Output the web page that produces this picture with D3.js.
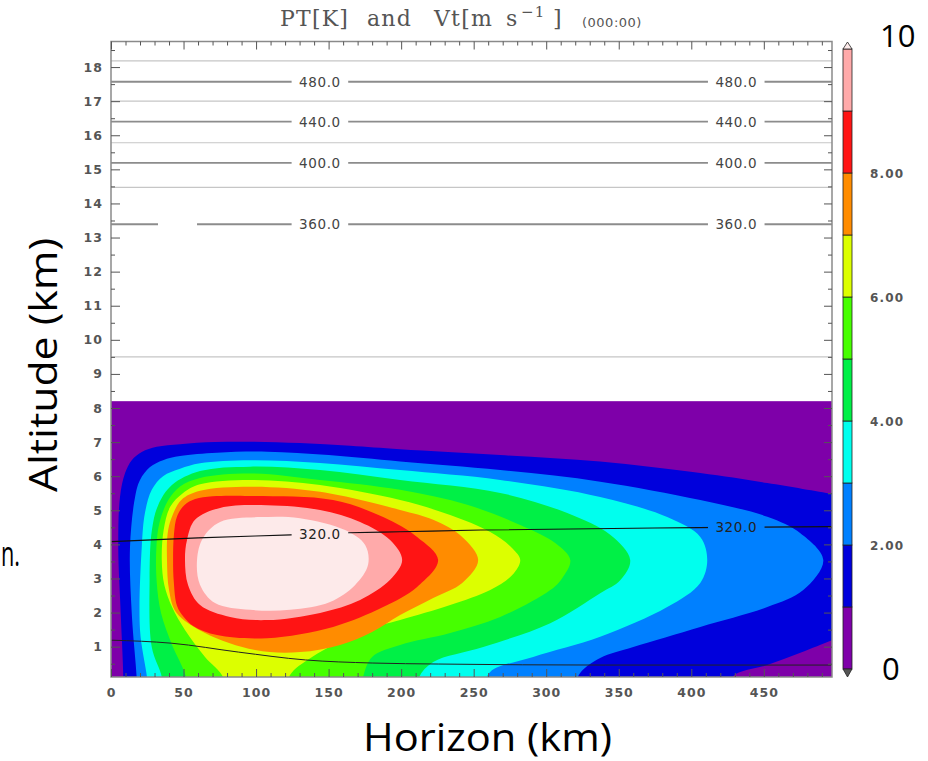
<!DOCTYPE html>
<html><head><meta charset="utf-8">
<script src="https://cdn.jsdelivr.net/npm/d3@7"></script>
<style>body{margin:0;background:#fff;} svg{display:block}</style>
</head><body>
<svg id="chart" width="928" height="761"></svg>
<script>
// ---------- data ----------
const xTicks = [0, 50, 100, 150, 200, 250, 300, 350, 400, 450];
const yTicks = [1, 2, 3, 4, 5, 6, 7, 8, 9, 10, 11, 12, 13, 14, 15, 16, 17, 18];
const vtColors = ["#7e00a9", "#0000dc", "#0080ff", "#00ffee", "#00f046", "#46ff00", "#dcff00", "#ff8c00", "#ff1414", "#ffaaaa", "#fdeaea"];
const cbTicks = [2, 4, 6, 8];
const cbTickLabels = ["2.00", "4.00", "6.00", "8.00"];
const vtTop = 8.2;
// contour boundaries of Vt (region Vt > level), [km, km]
const vt1 = [[8.3,-0.3],[8.5,0.11],[6.7,1.99],[5.0,3.92],[6.2,5.39],[9.7,6.09],[14.3,6.47],[21.2,6.71],[31.5,6.86],[47.6,6.94],[71.7,7.0],[95.9,7.01],[130.3,6.97],[164.8,6.89],[199.3,6.79],[268.3,6.62],[337.2,6.43],[406.2,6.09],[452.4,5.80],[497.2,5.48],[506,5.42],[506,1.32],[497.2,1.19],[475.2,0.82],[452.4,0.46],[429,0.14],[425.5,-0.3]];
const vt2 = [[17.9,-0.3],[17.7,0.11],[14.3,1.99],[13.1,3.92],[16.6,5.39],[20.0,5.89],[26.9,6.27],[35.9,6.47],[47.6,6.59],[73.1,6.69],[107.6,6.72],[150,6.62],[199.3,6.43],[268.3,6.18],[337.2,5.84],[406.2,5.30],[452.4,4.81],[475.2,4.33],[491,3.54],[477.2,2.66],[452.4,2.16],[406.2,1.58],[360,0.99],[337.2,0.67],[323.4,0.23],[318.6,-0.3]];
const vt3 = [[25.5,-0.3],[24.8,0.11],[20.0,1.49],[21.2,3.92],[23.4,4.92],[28.1,5.60],[35.9,6.0],[47.6,6.22],[61.4,6.38],[95.9,6.47],[144.1,6.39],[199.3,6.18],[268.3,5.89],[337.2,5.39],[383.4,4.80],[406.2,4.22],[411,3.54],[406.2,2.87],[383.4,2.16],[337.2,1.29],[291,0.70],[261.4,0.26],[255.9,-0.3]];
const vt4 = [[35.2,-0.3],[35.0,0.11],[28.1,0.99],[26.6,2.95],[28.2,4.42],[32.5,5.15],[42.0,5.74],[61.4,6.15],[95.9,6.28],[144.1,6.18],[199.3,5.89],[268.3,5.51],[314.5,4.92],[344.1,4.28],[357.9,3.54],[351,2.95],[337.2,2.57],[302.8,1.69],[256.6,0.99],[222.1,0.55],[212.4,0.11],[211,-0.3]];
const vt5 = [[51.7,-0.3],[51.7,0.11],[42.1,1.05],[34.5,1.99],[31.5,2.9],[31.3,3.92],[33.5,4.65],[39.5,5.3],[47.6,5.7],[61.4,5.95],[95.9,6.08],[144.1,5.89],[199.3,5.60],[245.5,5.16],[282.1,4.57],[306.2,4.04],[316.6,3.54],[311,3.01],[302.8,2.66],[268.3,1.87],[233.8,1.40],[199.3,1.05],[180,0.70],[173.8,0.11],[173.1,-0.3]];
const vt6 = [[77.2,-0.3],[77.2,0.11],[64.8,0.70],[51.0,1.49],[42.1,2.16],[36.8,2.8],[35.0,3.54],[36.3,4.42],[40.8,5.1],[49.5,5.5],[61.4,5.76],[95.9,5.89],[144.1,5.74],[199.3,5.30],[233.8,4.86],[261.4,4.36],[276.6,3.89],[282.1,3.54],[276.6,3.10],[261.4,2.66],[233.8,2.22],[199.3,1.78],[175.2,1.49],[138.6,0.70],[123.4,0.17],[121.4,-0.3]];
const vt7 = [[38.6,3.54],[40.0,2.66],[45.0,2.0],[64.8,1.40],[99.3,0.90],[130.3,0.84],[157.9,1.05],[180,1.43],[199.3,1.93],[222.1,2.43],[242.1,2.87],[253.1,3.54],[242.1,4.22],[222.1,4.72],[199.3,5.01],[144.1,5.54],[95.9,5.69],[61.4,5.57],[48.5,5.3],[41.5,4.75],[39.0,4.3]];
const vt8 = [[42.8,3.54],[43.3,2.9],[45.5,2.2],[50.0,1.88],[57.0,1.6],[73.1,1.34],[107.6,1.25],[153.1,1.58],[187.6,2.16],[211,2.75],[225.5,3.54],[211,4.22],[187.6,4.80],[153.1,5.30],[95.9,5.42],[70.0,5.41],[58.0,5.33],[50.5,5.15],[45.5,4.82],[43.4,4.3]];
const vt9 = [[51.0,3.54],[53.1,2.81],[61.4,2.22],[82.1,1.87],[107.6,1.78],[144.1,1.99],[171.7,2.37],[192.4,2.96],[200.7,3.54],[192.4,4.13],[171.7,4.66],[144.1,5.01],[107.6,5.15],[75.2,5.07],[57.9,4.72],[52.4,4.13]];
const vt10 = [[59.3,3.54],[61.4,2.81],[71.7,2.28],[95.9,2.08],[123.4,2.08],[151.0,2.31],[168.3,2.81],[177.2,3.40],[175.2,3.98],[161.4,4.42],[130.3,4.77],[102.8,4.80],[75.2,4.66],[63.4,4.19]];
const vtContours = [vt1, vt2, vt3, vt4, vt5, vt6, vt7, vt8, vt9, vt10];
// potential temperature contours
const ptFlatLevels = [340, 360, 380, 400, 420, 440, 460, 480, 500];
const ptFlatHeights = [9.50, 13.39, 14.47, 15.19, 15.78, 16.40, 17.00, 17.57, 18.18];
const ptLabeledLevels = [320, 360, 400, 440, 480];
const pt300 = [[0,1.19],[42,1.10],[88,0.84],[134,0.61],[180,0.52],[226,0.49],[341,0.46],[497,0.46]];
const pt320 = [[0,4.08],[60,4.19],[124,4.28],[164,4.34],[199,4.37],[255,4.42],[405,4.49],[497,4.52]];
const ptLabelX = [144, 431];
const pt360Gap = [32.4, 59.3];

// ---------- layout ----------
const svg = d3.select("#chart");
const X0 = 111, X1 = 832, Y0 = 677, Y1 = 41.5;
const x = d3.scaleLinear([0, 497], [X0, X1]);
const y = d3.scaleLinear([0.11, 18.75], [Y0, Y1]);
const cb = d3.scaleLinear([0, 10], [669, 49]);

const defs = svg.append("defs");
defs.append("clipPath").attr("id", "plotClip")
  .append("rect").attr("x", X0).attr("y", Y1).attr("width", X1 - X0).attr("height", Y0 - Y1);

// field
const g = svg.append("g").attr("clip-path", "url(#plotClip)");
g.append("rect").attr("x", x(0)).attr("y", y(vtTop)).attr("width", x(497) - x(0))
  .attr("height", y(0.11) - y(vtTop)).attr("fill", vtColors[0]);

const openLine = d3.line().x(d => x(d[0])).y(d => y(d[1])).curve(d3.curveCatmullRom.alpha(0.5));
const closedLine = d3.line().x(d => x(d[0])).y(d => y(d[1])).curve(d3.curveCatmullRomClosed.alpha(0.5));
vtContours.forEach((pts, i) => {
  const touchesGround = pts[0][1] < 0;
  const d = touchesGround ? openLine(pts) + "Z" : closedLine(pts);
  g.append("path").attr("d", d).attr("fill", vtColors[i + 1]);
});

// PT line label gaps mask
const interp = (pts, xv) => {
  for (let i = 0; i < pts.length - 1; i++) {
    if (xv >= pts[i][0] && xv <= pts[i + 1][0]) {
      const t = (xv - pts[i][0]) / (pts[i + 1][0] - pts[i][0]);
      return pts[i][1] + t * (pts[i + 1][1] - pts[i][1]);
    }
  }
  return pts[pts.length - 1][1];
};
const labelSpots = [];
ptLabeledLevels.forEach(lv => {
  ptLabelX.forEach(lx => {
    const h = lv === 320 ? interp(pt320, lx) : ptFlatHeights[ptFlatLevels.indexOf(lv)];
    labelSpots.push({ lv, lx, h });
  });
});
const mask = defs.append("mask").attr("id", "ptMask").attr("maskUnits", "userSpaceOnUse")
  .attr("x", 0).attr("y", 0).attr("width", 928).attr("height", 761);
mask.append("rect").attr("x", 0).attr("y", 0).attr("width", 928).attr("height", 761).attr("fill", "#fff");
labelSpots.forEach(s => {
  mask.append("rect").attr("x", x(s.lx - 19.5)).attr("y", y(s.h) - 7)
    .attr("width", x(s.lx + 19.5) - x(s.lx - 19.5)).attr("height", 14).attr("fill", "#000");
});
const h360 = ptFlatHeights[ptFlatLevels.indexOf(360)];
mask.append("rect").attr("x", x(pt360Gap[0])).attr("y", y(h360) - 5)
  .attr("width", x(pt360Gap[1]) - x(pt360Gap[0])).attr("height", 10).attr("fill", "#000");

const gl = g.append("g").attr("mask", "url(#ptMask)");
ptFlatLevels.forEach((lv, i) => {
  const labeled = ptLabeledLevels.includes(lv);
  gl.append("line").attr("x1", x(0)).attr("x2", x(497))
    .attr("y1", y(ptFlatHeights[i])).attr("y2", y(ptFlatHeights[i]))
    .attr("stroke", labeled ? "#8c8c8c" : "#c6c6c6")
    .attr("stroke-width", labeled ? 1.8 : 1.2);
});
const straight = d3.line().x(d => x(d[0])).y(d => y(d[1])).curve(d3.curveMonotoneX);
gl.append("path").attr("d", straight(pt320)).attr("fill", "none").attr("stroke", "#111").attr("stroke-width", 1.1);
gl.append("path").attr("d", straight(pt300)).attr("fill", "none").attr("stroke", "#222").attr("stroke-width", 1);

labelSpots.forEach(s => {
  svg.append("text").attr("x", x(s.lx)).attr("y", y(s.h) + 5)
    .attr("text-anchor", "middle").attr("font-family", "DejaVu Sans").attr("font-size", 13.5)
    .attr("letter-spacing", 0.6).attr("fill", s.lv === 320 ? "#222" : "#444")
    .text(s.lv.toFixed(1));
});

// frame
svg.append("rect").attr("x", X0).attr("y", Y1).attr("width", X1 - X0).attr("height", Y0 - Y1)
  .attr("fill", "none").attr("stroke", "#8a8a8a").attr("stroke-width", 1.5);

// axes
const tickFont = sel => sel.selectAll("text").attr("font-family", "DejaVu Sans").attr("font-weight", "bold")
  .attr("font-size", 12.5).attr("fill", "#555").attr("letter-spacing", 1);
const styleAxis = sel => { sel.select(".domain").remove(); sel.selectAll("line").attr("stroke", "#555"); };
const xMinor = d3.range(10, 497, 10).filter(v => v % 50 !== 0);
const yMinor = d3.range(0.5, 18.75, 1);

const axB = svg.append("g").attr("transform", `translate(0,${Y0})`)
  .call(d3.axisBottom(x).tickValues(xTicks).tickSize(-8).tickPadding(11).tickFormat(d3.format("d")));
styleAxis(axB); tickFont(axB);
svg.append("g").attr("transform", `translate(0,${Y0})`)
  .call(d3.axisBottom(x).tickValues(xMinor).tickSize(-4).tickFormat("")).call(styleAxis);
svg.append("g").attr("transform", `translate(0,${Y1})`)
  .call(d3.axisTop(x).tickValues(xTicks).tickSize(-8).tickFormat("")).call(styleAxis);
svg.append("g").attr("transform", `translate(0,${Y1})`)
  .call(d3.axisTop(x).tickValues(xMinor).tickSize(-4).tickFormat("")).call(styleAxis);

const axL = svg.append("g").attr("transform", `translate(${X0},0)`)
  .call(d3.axisLeft(y).tickValues(yTicks).tickSize(-9).tickPadding(8).tickFormat(d3.format("d")));
styleAxis(axL); tickFont(axL);
svg.append("g").attr("transform", `translate(${X0},0)`)
  .call(d3.axisLeft(y).tickValues(yMinor).tickSize(-4).tickFormat("")).call(styleAxis);
svg.append("g").attr("transform", `translate(${X1},0)`)
  .call(d3.axisRight(y).tickValues(yTicks).tickSize(-8).tickFormat("")).call(styleAxis);
svg.append("g").attr("transform", `translate(${X1},0)`)
  .call(d3.axisRight(y).tickValues(yMinor).tickSize(-4).tickFormat("")).call(styleAxis);

// colorbar
const CBX = 843, CBW = 9;
const cbg = svg.append("g");
d3.range(10).forEach(i => {
  cbg.append("rect").attr("x", CBX).attr("y", cb(i + 1)).attr("width", CBW)
    .attr("height", cb(i) - cb(i + 1)).attr("fill", vtColors[i])
    .attr("stroke", "#222").attr("stroke-width", 0.8);
});
cbg.append("path").attr("d", `M${CBX},${cb(10)}L${CBX + CBW / 2},${cb(10) - 7}L${CBX + CBW},${cb(10)}Z`)
  .attr("fill", vtColors[10]).attr("stroke", "#222").attr("stroke-width", 0.8);
cbg.append("path").attr("d", `M${CBX},${cb(0)}L${CBX + CBW / 2},${cb(0) + 8}L${CBX + CBW},${cb(0)}Z`)
  .attr("fill", "#555").attr("stroke", "#222").attr("stroke-width", 0.8);
cbTicks.forEach((v, i) => {
  cbg.append("text").attr("x", 870).attr("y", cb(v) + 4.5)
    .attr("font-family", "DejaVu Sans").attr("font-weight", "bold").attr("font-size", 12)
    .attr("letter-spacing", 1.2).attr("fill", "#555").text(cbTickLabels[i]);
});

// title
const t = svg.append("text").attr("y", 26).attr("font-family", "DejaVu Serif")
  .attr("font-size", 22).attr("fill", "#555").attr("letter-spacing", 1.2);
t.append("tspan").attr("x", 280).text("PT[K]");
t.append("tspan").attr("x", 367).text("and");
t.append("tspan").attr("x", 434).text("Vt[m");
t.append("tspan").attr("x", 506).text("s");
t.append("tspan").attr("x", 521).attr("dy", -9).attr("font-size", 15).text("\u22121");
t.append("tspan").attr("x", 553).attr("dy", 9).text("]");
svg.append("text").attr("x", 582).attr("y", 27).attr("font-family", "DejaVu Sans")
  .attr("font-size", 13).attr("fill", "#555").attr("letter-spacing", 0.5).text("(000:00)");

// overlaid labels
svg.append("text").attr("x", 363).attr("y", 751).attr("font-family", "Open Sans")
  .attr("font-size", 38).attr("textLength", 249).attr("lengthAdjust", "spacingAndGlyphs")
  .attr("fill", "#000").text("Horizon (km)");
svg.append("text").attr("transform", "translate(57,365) rotate(-90)").attr("text-anchor", "middle")
  .attr("font-family", "Open Sans").attr("font-size", 38).attr("textLength", 254)
  .attr("lengthAdjust", "spacingAndGlyphs").attr("fill", "#000").text("Altitude (km)");
svg.append("text").attr("x", 880).attr("y", 47).attr("font-family", "Open Sans")
  .attr("font-size", 31).attr("fill", "#000").text("10");
svg.append("text").attr("x", 882).attr("y", 680).attr("font-family", "Open Sans")
  .attr("font-size", 31).attr("fill", "#000").text("0");
svg.append("text").attr("x", 1).attr("y", 566).attr("font-family", "Open Sans")
  .attr("font-size", 34).attr("textLength", 19).attr("lengthAdjust", "spacingAndGlyphs")
  .attr("fill", "#000").text("n.");
</script>
</body></html>
